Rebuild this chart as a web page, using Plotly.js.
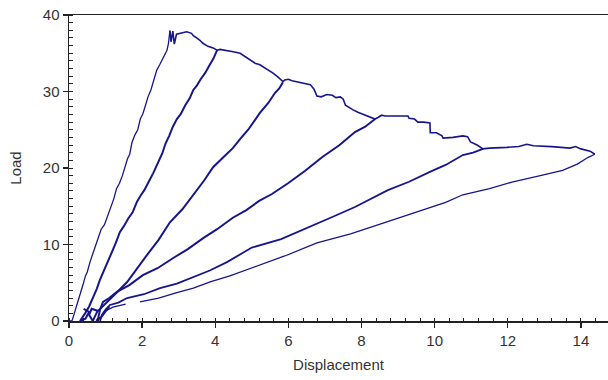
<!DOCTYPE html>
<html>
<head>
<meta charset="utf-8">
<script src="https://cdn.plot.ly/plotly-3.0.1.min.js"></script>
<style>html,body{margin:0;padding:0;background:#fff;overflow:hidden}#chart{width:608px;height:380px}</style>
</head>
<body>
<div id="chart"></div>
<script>
// Initial loading curve up to peak
const line1X = [0.0,0.08,0.12,0.16,0.22,0.27,0.33,0.38,0.45,0.5,0.58,0.66,0.72,0.8,0.88,0.97,1.07,1.15,1.22,1.3,1.38,1.46,1.53,1.6,1.66,1.72,1.8,1.88,1.95,2.02,2.08,2.16,2.24,2.3,2.4,2.48,2.56,2.62,2.68,2.72,2.76];
const line1Y = [0.0,0.0,0.6,1.2,2.4,3.1,4.0,4.7,5.9,6.4,7.8,9.0,9.8,10.8,12.0,12.6,13.9,15.2,15.9,17.3,18.0,19.0,20.1,21.2,21.8,23.3,24.3,25.0,26.4,27.1,28.0,29.3,30.2,31.3,32.8,33.5,34.3,34.8,35.4,36.3,37.95];
// Post-peak envelope
const envX = [2.76,2.79,2.84,2.88,2.94,3.08,3.22,3.35,3.4,3.49,3.58,3.66,3.8,3.94,4.05,4.13,4.31,4.49,4.68,4.81,4.95,5.09,5.22,5.4,5.58,5.71,5.85,5.9,6.0,6.1,6.3,6.45,6.6,6.7,6.78,6.9,7.05,7.2,7.3,7.42,7.5,7.56,7.66,7.77,7.9,8.05,8.23,8.37,8.45,8.55,8.64,9.0,9.27,9.3,9.45,9.54,9.7,9.87,9.88,10.05,10.2,10.23,10.5,10.77,10.9,10.98,11.16,11.32,11.5,11.98,12.3,12.52,12.7,13.2,13.7,13.85,14.0,14.25,14.38];
const envY = [37.95,36.5,37.9,36.2,37.5,37.7,37.8,37.6,37.3,37.0,36.7,36.3,35.9,35.7,35.4,35.5,35.3,35.2,35.0,34.6,34.1,33.7,33.5,33.0,32.4,31.9,31.3,31.5,31.6,31.4,31.2,31.0,30.9,30.3,29.4,29.3,29.6,29.5,29.2,29.3,29.0,28.2,27.9,27.6,27.3,27.0,26.7,26.4,26.6,26.9,26.8,26.8,26.8,26.5,26.4,26.0,26.0,25.9,24.6,24.6,24.2,23.9,24.0,24.2,24.1,23.4,23.0,22.5,22.6,22.7,22.8,23.1,22.9,22.8,22.6,22.8,22.5,22.2,21.8];
// Unloading / reloading branches
const line2X = [4.05,3.95,3.85,3.72,3.6,3.5,3.4,3.3,3.18,3.05,2.95,2.84,2.74,2.64,2.55,2.43,2.3,2.18,2.06,1.96,1.86,1.74,1.62,1.5,1.39,1.28,1.18,1.05,0.93,0.84,0.76,0.66,0.55,0.44,0.36,0.3,0.45,0.55,0.4];
const line2Y = [35.4,34.3,33.5,32.4,31.6,30.8,30.2,29.1,28.2,27.0,26.4,25.4,24.2,23.2,21.9,20.6,19.3,18.2,17.1,16.4,15.6,14.2,13.4,12.4,11.6,10.2,9.1,7.7,6.4,5.3,4.2,3.0,1.9,1.0,0.4,0.0,0.3,1.2,1.6];
const line3X = [5.85,5.75,5.63,5.45,5.22,5.09,4.9,4.7,4.48,4.2,3.94,3.7,3.4,3.1,2.76,2.45,2.13,1.86,1.59,1.3,1.04,0.88,0.77,0.7,0.65,0.55,0.62,0.8];
const line3Y = [31.2,30.4,29.8,28.5,27.2,26.3,25.0,23.9,22.6,21.3,20.1,18.4,16.5,14.6,12.9,10.6,8.6,6.8,5.1,3.7,2.5,1.7,1.2,0.5,0.0,0.8,1.6,1.3];
const line4X = [8.37,8.1,7.82,7.4,6.92,6.45,5.99,5.55,5.2,4.85,4.48,4.05,3.66,3.25,2.84,2.42,2.02,1.65,1.31,1.1,0.93,0.85,0.8,0.75,0.9,1.1];
const line4Y = [26.4,25.4,24.7,23.0,21.4,19.6,18.0,16.6,15.7,14.5,13.5,12.0,10.8,9.4,8.2,6.9,6.0,4.7,3.8,3.0,2.5,1.5,0.4,0.0,0.6,1.9];
const line5X = [11.32,11.05,10.77,10.3,9.87,9.3,8.72,8.25,7.82,7.2,6.5,5.8,5.0,4.32,3.85,3.4,2.95,2.49,2.05,1.59,1.35,1.12,1.0,0.9,0.85];
const line5Y = [22.5,22.0,21.7,20.4,19.5,18.2,17.1,15.9,14.9,13.6,12.2,10.7,9.6,7.7,6.6,5.8,4.9,4.3,3.5,3.0,2.4,2.1,1.5,0.8,0.0];
// Final unloading branch
const line6X = [14.38,14.2,13.9,13.5,12.8,12.14,11.5,10.77,10.3,9.87,9.2,8.59,7.7,6.78,5.9,4.95,4.4,3.86,3.4,2.95,2.45,1.94,null,1.55,1.2,0.95];
const line6Y = [21.8,21.4,20.5,19.7,18.9,18.2,17.3,16.5,15.5,14.8,13.7,12.8,11.4,10.2,8.5,6.9,5.9,5.1,4.3,3.7,3.0,2.5,null,2.2,1.8,1.2];

const col = '#16168a';
function tr(x, y, w) {
  return {x: x, y: y, type: 'scatter', mode: 'lines', line: {color: col, width: w}, hoverinfo: 'skip', showlegend: false};
}
const data = [
  tr(line1X, line1Y, 1.3),
  tr(envX, envY, 1.6),
  tr(line2X, line2Y, 2.0),
  tr(line3X, line3Y, 2.0),
  tr(line4X, line4Y, 2.0),
  tr(line5X, line5Y, 1.8),
  tr(line6X, line6Y, 1.3)
];
const fnt = {family: 'Liberation Sans, Arial, sans-serif', size: 15, color: '#333'};
const layout = {
  width: 608, height: 380,
  margin: {l: 69, r: 0, t: 15, b: 59},
  paper_bgcolor: '#fff', plot_bgcolor: '#fff',
  font: fnt,
  xaxis: {
    range: [0, 14.74], tick0: 0, dtick: 2,
    showline: true, linecolor: '#222', linewidth: 1.5, mirror: true,
    showgrid: false, zeroline: false,
    ticks: 'outside', ticklen: 5, tickwidth: 1.3, tickcolor: '#222',
    minor: {dtick: 0.4, ticks: 'inside', ticklen: 3, tickwidth: 1, tickcolor: '#222', showgrid: false},
    tickfont: fnt,
    title: {text: 'Displacement', font: fnt, standoff: 12}
  },
  yaxis: {
    range: [0, 40], tick0: 0, dtick: 10,
    showline: true, linecolor: '#222', linewidth: 1.5,
    showgrid: false, zeroline: false,
    ticks: 'outside', ticklen: 5, tickwidth: 1.3, tickcolor: '#222',
    minor: {dtick: 1, ticks: 'inside', ticklen: 4, tickwidth: 1, tickcolor: '#222', showgrid: false},
    tickfont: fnt,
    title: {text: 'Load', font: fnt, standoff: 17}
  }
};
Plotly.newPlot('chart', data, layout, {staticPlot: true, displayModeBar: false});
</script>
</body>
</html>
